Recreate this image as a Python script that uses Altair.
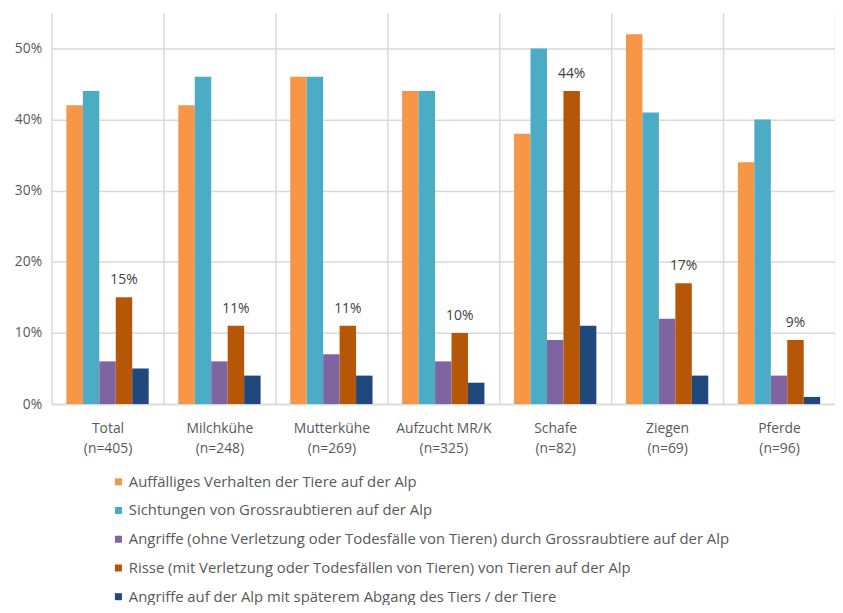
import altair as alt
import pandas as pd

categories = ["Total", "Milchkühe", "Mutterkühe", "Aufzucht MR/K", "Schafe", "Ziegen", "Pferde"]
sample_sizes = ["(n=405)", "(n=248)", "(n=269)", "(n=325)", "(n=82)", "(n=69)", "(n=96)"]
series = [
    "Auffälliges Verhalten der Tiere auf der Alp",
    "Sichtungen von Grossraubtieren auf der Alp",
    "Angriffe (ohne Verletzung oder Todesfälle von Tieren) durch Grossraubtiere auf der Alp",
    "Risse (mit Verletzung oder Todesfällen von Tieren) von Tieren auf der Alp",
    "Angriffe auf der Alp mit späterem Abgang des Tiers / der Tiere",
]
auffaellig = [42, 42, 46, 44, 38, 52, 34]
sichtungen = [44, 46, 46, 44, 50, 41, 40]
angriffe = [6, 6, 7, 6, 9, 12, 4]
risse = [15, 11, 11, 10, 44, 17, 9]
abgang = [5, 4, 4, 3, 11, 4, 1]
colors = ["#F79646", "#4BACC6", "#8064A2", "#B65708", "#1F497D"]

values_by_series = [auffaellig, sichtungen, angriffe, risse, abgang]
labels = [f"{c}|{n}" for c, n in zip(categories, sample_sizes)]

rows = []
for s, vals in zip(series, values_by_series):
    for lab, v in zip(labels, vals):
        rows.append({"cat": lab, "series": s, "value": v})
df = pd.DataFrame(rows)

FONT = "Open Sans"
TXT = "#595959"

x_enc = alt.X(
    "cat:N",
    sort=labels,
    scale=alt.Scale(paddingInner=0, paddingOuter=0),
    axis=alt.Axis(
        title=None,
        labelExpr="split(datum.label, '|')",
        labelAngle=0,
        labelFont=FONT,
        labelFontSize=14,
        labelColor=TXT,
        labelPadding=18,
        labelLineHeight=20,
        ticks=False,
        domainColor="#D9D9D9",
        domainWidth=1.5,
        grid=True,
        gridColor="#D9D9D9",
        gridWidth=1.5,
        tickBand="extent",
    ),
)
xoff = alt.XOffset("series:N", sort=series,
                   scale=alt.Scale(paddingOuter=0.9, paddingInner=0))
y_enc = alt.Y(
    "value:Q",
    scale=alt.Scale(domain=[0, 55], nice=False),
    axis=alt.Axis(
        title=None,
        values=[0, 10, 20, 30, 40, 50],
        labelExpr="datum.value + '%'",
        labelFont=FONT,
        labelFontSize=14,
        labelColor=TXT,
        labelPadding=10,
        ticks=False,
        domain=False,
        gridColor="#D9D9D9",
        gridWidth=1.5,
    ),
)

bars = alt.Chart(df).mark_bar().encode(
    x=x_enc,
    xOffset=xoff,
    y=y_enc,
    color=alt.Color(
        "series:N",
        sort=series,
        scale=alt.Scale(domain=series, range=colors),
        legend=alt.Legend(
            title=None,
            orient="none",
            legendX=60,
            legendY=466,
            direction="vertical",
            symbolType="square",
            symbolSize=50,
            symbolStrokeWidth=0,
            labelFont=FONT,
            labelFontSize=15,
            labelColor=TXT,
            labelLimit=800,
            rowPadding=13,
            labelOffset=3,
        ),
    ),
)

text = alt.Chart(df).transform_filter(
    alt.datum.series == series[3]
).transform_calculate(
    lbl="datum.value + '%'"
).mark_text(
    baseline="bottom", dy=-10, font=FONT, fontSize=14, color="#404040"
).encode(
    x=alt.X("cat:N", sort=labels),
    xOffset=xoff,
    y=alt.Y("value:Q"),
    text="lbl:N",
)

chart = alt.layer(bars, text).properties(
    width=791,
    height=395,
    autosize=alt.AutoSizeParams(type="none"),
    padding={"left": 44, "top": 2, "right": 0, "bottom": 200},
).configure_view(stroke=None)

chart.save("out.html", embed_options={"renderer": "svg", "actions": False})
